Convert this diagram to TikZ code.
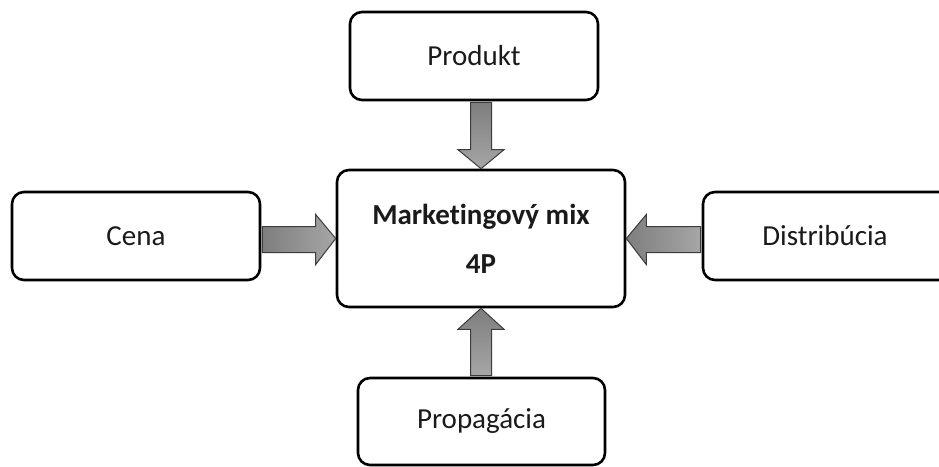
\documentclass[tikz,border=0pt]{standalone}
\usepackage{fontspec}
\setmainfont[Ligatures={NoCommon}]{Carlito}
\usetikzlibrary{calc}
\definecolor{arrowline}{HTML}{3C3C3C}
\definecolor{arrowdark}{HTML}{7E7E7E}
\definecolor{arrowlight}{HTML}{A6A6A6}
\definecolor{textcol}{HTML}{1A1A1A}
\tikzset{
  box/.style={draw=black, line width=2.6pt, rounded corners=12pt, fill=white,
    inner sep=0pt, align=center, text=textcol, font=\fontsize{29}{49}\selectfont},
  varrow/.style={draw=arrowline, line width=1pt, top color=arrowdark, bottom color=arrowlight},
  harrow/.style={draw=arrowline, line width=1pt, left color=arrowdark, right color=arrowlight},
}
\begin{document}
\begin{tikzpicture}[x=1pt,y=-1pt]
\clip (0,0) rectangle (939,466);
\fill[white] (0,0) rectangle (939,466);
\node[box, minimum width=248pt, minimum height=88pt] (prod) at (474,56) {Produkt};
\node[box, minimum width=288pt, minimum height=137pt] (mm) at (481,238.5) {\textbf{Marketingový mix}\\\textbf{4P}};
\node[box, minimum width=248pt, minimum height=88pt] (cena) at (136,236) {Cena};
\node[box, minimum width=248pt, minimum height=88pt] (dist) at (827,236) {\hspace*{-4pt}Distribúcia};
\node[box, minimum width=247pt, minimum height=87pt] (prop) at (481.5,421.5) {Propagácia};
% Produkt -> mix (down)
\draw[varrow] let \p1=(prod.south), \p2=(mm.north) in
  (\x2-10.5pt,\y1-1pt) -- (\x2-10.5pt,\y2+19pt) -- (\x2-23pt,\y2+19pt) -- (\x2,\y2) --
  (\x2+23pt,\y2+19pt) -- (\x2+10.5pt,\y2+19pt) -- (\x2+10.5pt,\y1-1pt) -- cycle;
% Propagacia -> mix (up)
\draw[varrow] let \p1=(prop.north), \p2=(mm.south) in
  (\x2-10.5pt,\y1+1pt) -- (\x2-10.5pt,\y2-21pt) -- (\x2-23pt,\y2-21pt) -- (\x2,\y2) --
  (\x2+23pt,\y2-21pt) -- (\x2+10.5pt,\y2-21pt) -- (\x2+10.5pt,\y1+1pt) -- cycle;
% Cena -> mix (right)
\draw[harrow] let \p1=(cena.east), \p2=(mm.west) in
  (\x1+1pt,\y2+12pt) -- (\x2-20pt,\y2+12pt) -- (\x2-20pt,\y2+24pt) -- (\x2,\y2) --
  (\x2-20pt,\y2-26pt) -- (\x2-20pt,\y2-14pt) -- (\x1+1pt,\y2-14pt) -- cycle;
% Distribucia -> mix (left)
\draw[harrow] let \p1=(dist.west), \p2=(mm.east) in
  (\x1-1pt,\y2+12pt) -- (\x2+20pt,\y2+12pt) -- (\x2+20pt,\y2+24pt) -- (\x2,\y2) --
  (\x2+20pt,\y2-26pt) -- (\x2+20pt,\y2-14pt) -- (\x1-1pt,\y2-14pt) -- cycle;
\end{tikzpicture}
\end{document}
